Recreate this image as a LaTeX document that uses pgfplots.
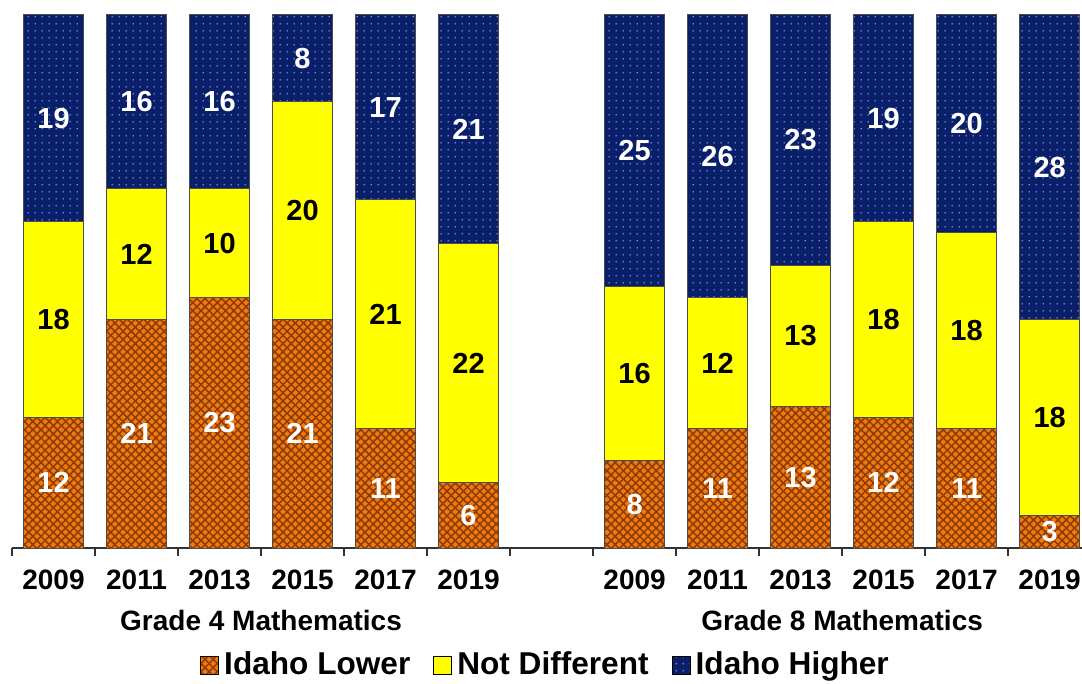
\documentclass[border=0pt]{standalone}
\usepackage{pgfplots}
\pgfplotsset{compat=1.18}
\usepackage{fontspec}
\setmainfont{Liberation Sans}
\usetikzlibrary{patterns.meta}

\definecolor{idorange}{HTML}{EE7A12}
\definecolor{idhatch}{HTML}{8E3A04}
\definecolor{idyellow}{HTML}{FFFF00}
\definecolor{idnavy}{HTML}{0A1F6A}
\definecolor{iddots}{HTML}{6E86CC}

\tikzset{
  lowerfill/.style={fill=idorange,
    postaction={pattern={Lines[angle=45,distance=2.9bp,line width=0.75bp]}, pattern color=idhatch},
    postaction={pattern={Lines[angle=-45,distance=2.9bp,line width=0.75bp]}, pattern color=idhatch}},
  higherfill/.style={fill=idnavy,
    postaction={pattern={Dots[distance=3.6bp,radius=0.55bp]}, pattern color=iddots}},
}

\begin{document}
\begin{tikzpicture}
\begin{axis}[
  scale only axis, width=535bp, height=274bp,
  xmin=-0.5, xmax=12.39, ymin=0, ymax=50.37,
  ybar stacked, bar width=30bp,
  axis x line=bottom, axis y line=none,
  x axis line style={-, black!80, line width=0.7bp},
  xtick={0,1,2,3,4,5,7,8,9,10,11,12},
  xticklabels={2009,2011,2013,2015,2017,2019,2009,2011,2013,2015,2017,2019},
  major tick length=0pt,
  minor xtick={-0.5,0.5,...,11.5},
  minor tick length=4bp, tick align=outside,
  minor tick style={black!80, line width=0.7bp},
  xticklabel style={font=\bfseries\fontsize{14bp}{14bp}\selectfont, anchor=center, yshift=-16bp},
  clip=false,
  /pgf/number format/assume math mode=true,
  nodes near coords,
  every node near coord/.append style={font=\bfseries\fontsize{14.5bp}{14.5bp}\selectfont, white},
  legend image code/.code={\draw[#1, draw=black, line width=0.5bp] (0bp,-4.5bp) rectangle (9bp,4.5bp);},
  legend style={at={(0.5,-0.2135)}, anchor=center, draw=none, fill=none,
    legend columns=-1, font=\bfseries\fontsize{15.8bp}{15.8bp}\selectfont,
    /tikz/every even column/.append style={column sep=9bp},
    nodes={inner xsep=2.5bp}},
]
% Idaho Lower
\addplot[lowerfill, draw=black!70, line width=0.5bp] coordinates {
  (0,12) (1,21) (2,23) (3,21) (4,11) (5,6)
  (7,8) (8,11) (9,13) (10,12) (11,11) (12,3)};
\addlegendentry{Idaho Lower}
% Not Different
\addplot[fill=idyellow, draw=black!70, line width=0.5bp,
  every node near coord/.append style={black}] coordinates {
  (0,18) (1,12) (2,10) (3,20) (4,21) (5,22)
  (7,16) (8,12) (9,13) (10,18) (11,18) (12,18)};
\addlegendentry{Not Different}
% Idaho Higher
\addplot[higherfill, draw=black!70, line width=0.5bp] coordinates {
  (0,19) (1,16) (2,16) (3,8) (4,17) (5,21)
  (7,25) (8,26) (9,23) (10,19) (11,20) (12,28)};
\addlegendentry{Idaho Higher}
\node[font=\bfseries\fontsize{14bp}{14bp}\selectfont] at (axis cs:2.5,0) [yshift=-36bp] {Grade 4 Mathematics};
\node[font=\bfseries\fontsize{14bp}{14bp}\selectfont] at (axis cs:9.5,0) [yshift=-36bp] {Grade 8 Mathematics};
\coordinate (bl) at (rel axis cs:0,0);
\coordinate (tr) at (rel axis cs:1,1);
\end{axis}
\pgfresetboundingbox
\path ([xshift=-6bp,yshift=-68bp]bl) rectangle (tr);
\end{tikzpicture}
\end{document}
